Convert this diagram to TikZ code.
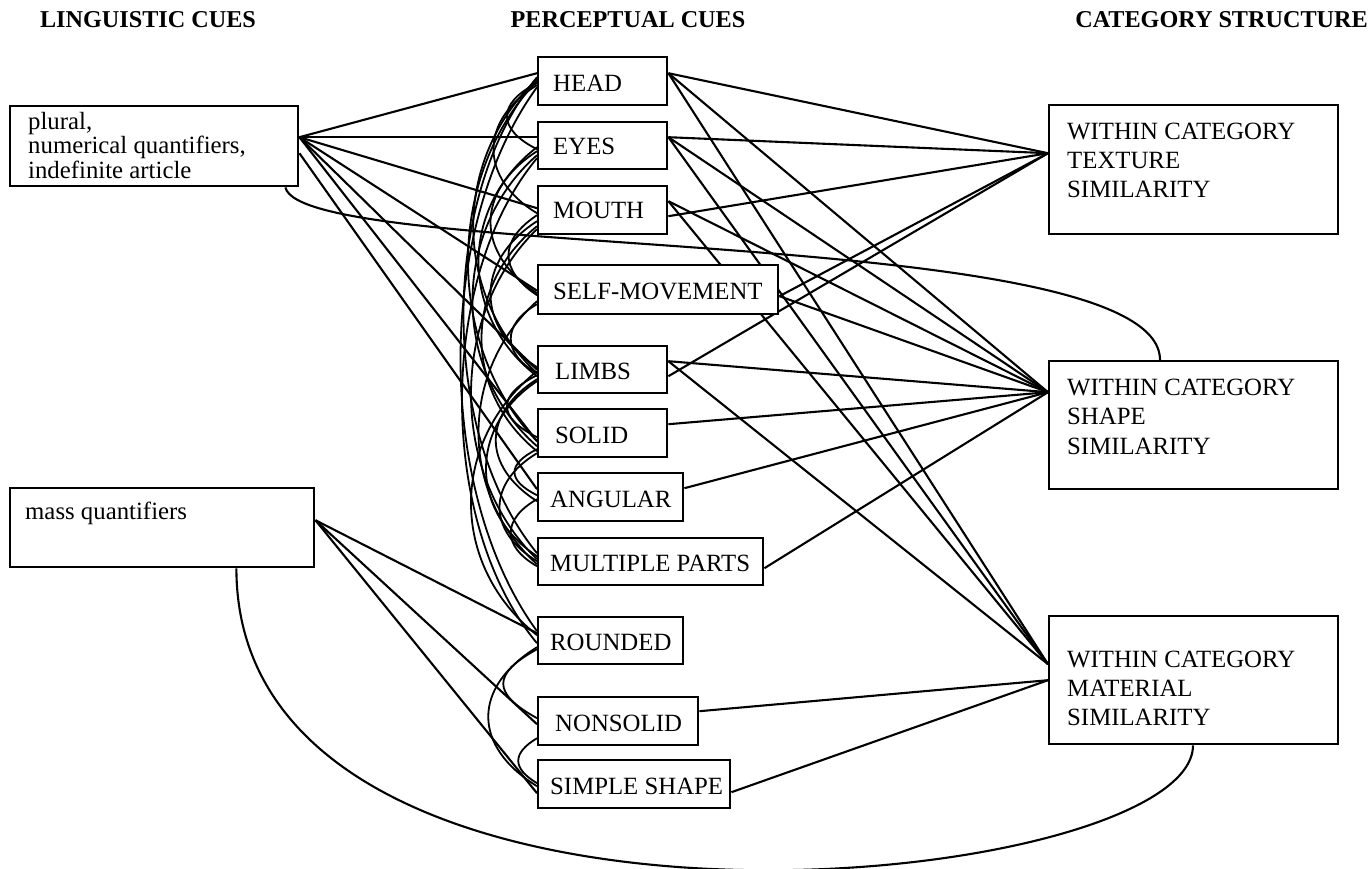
\documentclass[tikz,border=0pt]{standalone}
\usepackage{fontspec}
\setmainfont{Liberation Serif}
\usetikzlibrary{backgrounds}
\begin{document}
\begin{tikzpicture}[x=1pt,y=-1pt,
  box/.style={draw, line width=2.4pt, fill=white, anchor=north west, inner sep=0pt},
  txt/.style={anchor=base west, inner sep=0pt, font=\fontsize{24.8}{29}\selectfont},
  mtxt/.style={anchor=north west, inner sep=0pt, align=left},
  hdr/.style={anchor=base, inner sep=0pt, font=\fontsize{24.2}{28}\selectfont\bfseries},
  link/.style={line width=2.1pt},
  corr/.style={line width=1.8pt}]
\useasboundingbox (0,0) rectangle (1369,869);
% headers
\node[hdr] (h1) at (148,28) {LINGUISTIC CUES};
\node[hdr] (h2) at (628,28) {PERCEPTUAL CUES};
\node[hdr, anchor=base east] (h3) at (1368,28) {CATEGORY STRUCTURE};
% linguistic boxes
\node[box, minimum width=288pt, minimum height=80pt] (A) at (9,105) {};
\node[mtxt, font=\fontsize{24.8}{24.5}\selectfont] (At) at (28,112) {plural,\\numerical quantifiers,\\indefinite article};
\node[box, minimum width=304pt, minimum height=79pt] (B) at (9,487) {};
\node[txt] (Bt) at (25,519) {mass quantifiers};
% perceptual boxes
\node[box, minimum width=129pt, minimum height=48pt] (head) at (537,56) {};
\node[txt] at (553,92) {HEAD};
\node[box, minimum width=129pt, minimum height=47pt] (eyes) at (537,121) {};
\node[txt] at (553,155) {EYES};
\node[box, minimum width=129pt, minimum height=48pt] (mouth) at (537,185) {};
\node[txt] at (553,219) {MOUTH};
\node[box, minimum width=240pt, minimum height=49pt] (self) at (537,264) {};
\node[txt] at (553,299) {SELF-MOVEMENT};
\node[box, minimum width=129pt, minimum height=47pt] (limbs) at (537,345) {};
\node[txt] at (555,379) {LIMBS};
\node[box, minimum width=129pt, minimum height=48pt] (solid) at (537,408) {};
\node[txt] at (555,443) {SOLID};
\node[box, minimum width=145pt, minimum height=48pt] (angular) at (537,472) {};
\node[txt] at (550,507) {ANGULAR};
\node[box, minimum width=225pt, minimum height=47pt] (multi) at (537,537) {};
\node[txt] at (550,571) {MULTIPLE PARTS};
\node[box, minimum width=145pt, minimum height=47pt] (rounded) at (537,616) {};
\node[txt] at (550,650) {ROUNDED};
\node[box, minimum width=160pt, minimum height=48pt] (nonsolid) at (537,696) {};
\node[txt] at (555,731) {NONSOLID};
\node[box, minimum width=192pt, minimum height=48pt] (simple) at (537,759) {};
\node[txt] at (550,794) {SIMPLE SHAPE};
% category boxes
\node[box, minimum width=289pt, minimum height=129pt] (texture) at (1048,104) {};
\node[mtxt, font=\fontsize{24.8}{29}\selectfont] at (1067,122.6) {WITHIN CATEGORY\\TEXTURE\\SIMILARITY};
\node[box, minimum width=289pt, minimum height=128pt] (shape) at (1048,360) {};
\node[mtxt, font=\fontsize{24.8}{29.5}\selectfont] at (1067,378.6) {WITHIN CATEGORY\\SHAPE\\SIMILARITY};
\node[box, minimum width=289pt, minimum height=128pt] (material) at (1048,615) {};
\node[mtxt, font=\fontsize{24.8}{29}\selectfont] at (1067,650.6) {WITHIN CATEGORY\\MATERIAL\\SIMILARITY};

\begin{scope}[on background layer]
% linguistic -> perceptual
\draw[link] ([yshift=9pt]A.east) -- ([yshift=8pt]head.west);
\draw[link] ([yshift=9pt]A.east) -- ([yshift=8.5pt]eyes.west);
\draw[link] ([yshift=9pt]A.east) -- ([yshift=2pt]mouth.west);
\draw[link] ([yshift=9pt]A.east) -- ([yshift=-1pt]self.west);
\draw[link] ([yshift=9pt]A.east) -- (limbs.west);
\draw[link] ([yshift=9pt]A.east) -- ([yshift=-8pt]solid.west);
\draw[link] ([yshift=-7pt]A.east) -- ([yshift=8pt]angular.west);
\draw[link] ([yshift=7.5pt]B.east) -- ([yshift=7.5pt]rounded.west);
\draw[link] ([yshift=7.5pt]B.east) -- ([yshift=-3pt]nonsolid.west);
\draw[link] ([yshift=7.5pt]B.east) -- ([yshift=-9pt]simple.west);
% perceptual -> category
\draw[link] ([yshift=8pt]head.east) -- ([yshift=16.5pt]texture.west);
\draw[link] ([yshift=8pt]head.east) -- ([yshift=33pt]shape.west);
\draw[link] ([yshift=8pt]head.east) -- ([yshift=16pt]material.west);
\draw[link] ([yshift=8.5pt]eyes.east) -- ([yshift=16.5pt]texture.west);
\draw[link] ([yshift=8.5pt]eyes.east) -- ([yshift=33pt]shape.west);
\draw[link] ([yshift=8.5pt]eyes.east) -- ([yshift=16pt]material.west);
\draw[link] ([yshift=-6pt]mouth.east) -- ([yshift=16.5pt]texture.west);
\draw[link] ([yshift=9pt]mouth.east) -- ([yshift=33pt]shape.west);
\draw[link] ([yshift=9pt]mouth.east) -- ([yshift=16pt]material.west);
\draw[link] ([yshift=-6.5pt]self.east) -- ([yshift=16.5pt]texture.west);
\draw[link] ([yshift=-6.5pt]self.east) -- ([yshift=33pt]shape.west);
\draw[link] ([yshift=-6.5pt]limbs.east) -- ([yshift=16.5pt]texture.west);
\draw[link] ([yshift=8.5pt]limbs.east) -- ([yshift=33pt]shape.west);
\draw[link] ([yshift=8.5pt]limbs.east) -- ([yshift=16pt]material.west);
\draw[link] ([yshift=9pt]solid.east) -- ([yshift=33pt]shape.west);
\draw[link] ([yshift=9pt]angular.east) -- ([yshift=33pt]shape.west);
\draw[link] ([yshift=-6.5pt]multi.east) -- ([yshift=33pt]shape.west);
\draw[link] ([yshift=10pt]nonsolid.east) -- (material.west);
\draw[link] ([yshift=-8pt]simple.east) -- (material.west);
% long curves
\draw[link] ([xshift=-14pt]A.south east) .. controls +(17,75) and +(0,-138) .. ([xshift=112pt]shape.north west);
\draw[link] ([xshift=-79pt]B.south east) .. controls +(0,419) and +(0,147) .. ([xshift=145pt]material.south west);
% correlations among perceptual cues
\draw[corr] ([yshift=-2pt]head.west) .. controls +(-40,20) and +(-40,-20) .. ([yshift=-3.5pt]eyes.west);
\draw[corr] ([yshift=-4pt]head.west) .. controls +(-58,35) and +(-58,-35) .. ([yshift=-3pt]mouth.west);
\draw[corr] ([yshift=2pt]head.west) .. controls +(-85,80) and +(-85,-80) .. ([yshift=-3.5pt]limbs.west);
\draw[corr] (head.west) .. controls +(-92,95) and +(-92,-95) .. ([yshift=-8pt]solid.west);
\draw[corr] ([yshift=4pt]head.west) .. controls +(-98,120) and +(-98,-120) .. ([yshift=8.5pt]multi.west);
\draw[corr] ([yshift=-6pt]head.west) .. controls +(-102,140) and +(-102,-140) .. ([yshift=9.5pt]rounded.west);
\draw[corr] ([yshift=-5.5pt]eyes.west) .. controls +(-62,40) and +(-62,-40) .. ([yshift=-3.5pt]self.west);
\draw[corr] ([yshift=-1.5pt]eyes.west) .. controls +(-78,60) and +(-78,-60) .. ([yshift=-6.5pt]limbs.west);
\draw[corr] ([yshift=-9.5pt]eyes.west) .. controls +(-86,75) and +(-86,-75) .. ([yshift=-13pt]solid.west);
\draw[corr] ([yshift=-12.5pt]eyes.west) .. controls +(-100,120) and +(-100,-120) .. ([yshift=-2.5pt]rounded.west);
\draw[corr] ([yshift=-5pt]mouth.west) .. controls +(-38,25) and +(-38,-25) .. ([yshift=-5.5pt]self.west);
\draw[corr] ([yshift=-11pt]mouth.west) .. controls +(-62,40) and +(-62,-40) .. ([yshift=2.5pt]limbs.west);
\draw[corr] ([yshift=-16pt]mouth.west) .. controls +(-74,60) and +(-74,-60) .. ([yshift=-18pt]solid.west);
\draw[corr] ([yshift=-19pt]mouth.west) .. controls +(-88,85) and +(-88,-85) .. ([yshift=2.5pt]multi.west);
\draw[corr] ([yshift=-14.5pt]self.west) .. controls +(-35,20) and +(-35,-20) .. ([yshift=-3.5pt]limbs.west);
\draw[corr] ([yshift=-11.5pt]self.west) .. controls +(-78,70) and +(-78,-70) .. ([yshift=-2.5pt]multi.west);
\draw[corr] ([yshift=-5.5pt]limbs.west) .. controls +(-40,20) and +(-40,-20) .. ([yshift=-4pt]solid.west);
\draw[corr] ([yshift=-9.5pt]limbs.west) .. controls +(-55,35) and +(-55,-35) .. ([yshift=-4pt]angular.west);
\draw[corr] ([yshift=-11.5pt]limbs.west) .. controls +(-68,45) and +(-68,-45) .. ([yshift=5.5pt]multi.west);
\draw[corr] ([yshift=-1.5pt]limbs.west) .. controls +(-88,70) and +(-88,-70) .. ([yshift=5.5pt]rounded.west);
\draw[corr] ([yshift=-16pt]solid.west) .. controls +(-30,15) and +(-30,-15) .. ([yshift=2pt]angular.west);
\draw[corr] ([yshift=-20pt]solid.west) .. controls +(-50,30) and +(-50,-30) .. ([yshift=0.5pt]multi.west);
\draw[corr] ([yshift=-2pt]angular.west) .. controls +(-35,20) and +(-35,-20) .. ([yshift=-4.5pt]multi.west);
\draw[corr] ([yshift=-8.5pt]rounded.west) .. controls +(-45,25) and +(-45,-25) .. ([yshift=3pt]nonsolid.west);
\draw[corr] ([yshift=-6.5pt]rounded.west) .. controls +(-65,40) and +(-65,-40) .. ([yshift=-2pt]simple.west);
\draw[corr] ([yshift=-17pt]nonsolid.west) .. controls +(-25,15) and +(-25,-15) .. ([yshift=1pt]simple.west);
\end{scope}
\end{tikzpicture}
\end{document}
